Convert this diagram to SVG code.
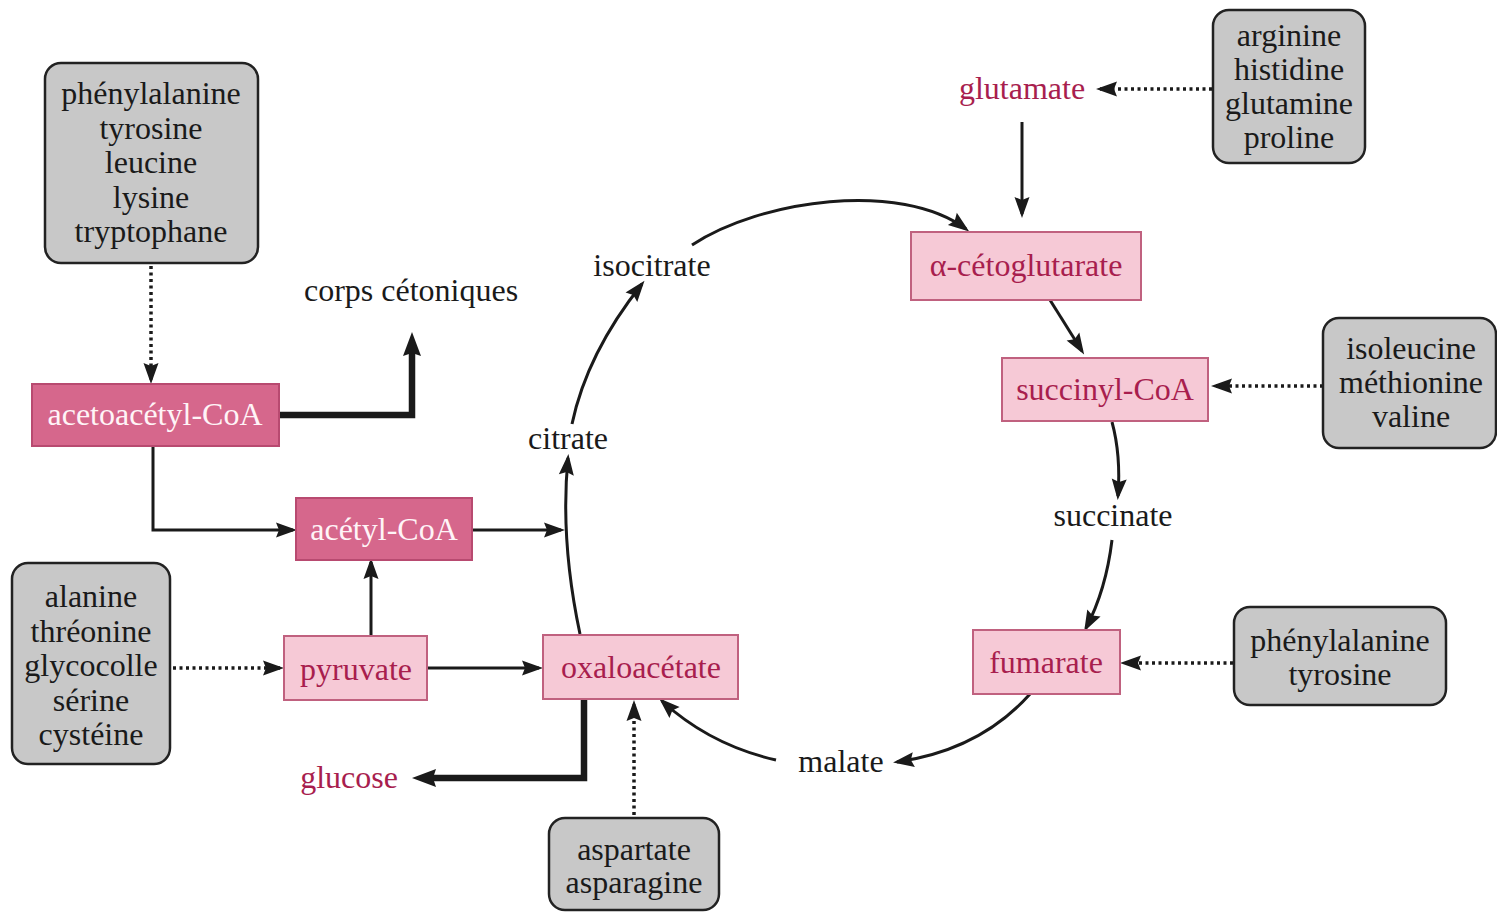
<svg xmlns="http://www.w3.org/2000/svg" width="1497" height="912" viewBox="0 0 1497 912">
  <style>
    text { font-family: "Liberation Serif", "Times New Roman", serif; font-size: 32px; text-anchor: middle; fill: #1a1a1a; }
    .pinktxt { fill: #a81e4e; }
    .whitetxt { fill: #fff4f7; }
    .src { fill: #c8c8c8; stroke: #222; stroke-width: 2.5; }
    .dark { fill: #d6678c; stroke: #b84a70; stroke-width: 2; }
    .light { fill: #f6c9d6; stroke: #c0617f; stroke-width: 2; }
    .line { fill: none; stroke: #1a1a1a; stroke-width: 3; marker-end: url(#arr); }
    .thick { fill: none; stroke: #1a1a1a; stroke-width: 6.5; marker-end: url(#arrThick); }
    .dots { fill: none; stroke: #1a1a1a; stroke-width: 3.5; stroke-dasharray: 3 3.5; marker-end: url(#arr); }
  </style>
  <defs>
    <marker id="arr" markerUnits="userSpaceOnUse" markerWidth="22" markerHeight="16" refX="17" refY="7.5" orient="auto" overflow="visible">
      <path d="M0,0 L21,7.5 L0,15 L3,7.5 z" fill="#1a1a1a"/>
    </marker>
    <marker id="arrThick" markerUnits="userSpaceOnUse" markerWidth="26" markerHeight="20" refX="8" refY="9" orient="auto" overflow="visible">
      <path d="M0,0 L24,9 L0,18 L3,9 z" fill="#1a1a1a"/>
    </marker>
  </defs>

  <!-- connectors -->
  <g id="connectors">
    <!-- amino acid inputs (dotted) -->
    <path class="dots" d="M151 266 V380"/>
    <path class="dots" d="M173 668 H280"/>
    <path class="dots" d="M634 815 V704"/>
    <path class="dots" d="M1212 89 H1100"/>
    <path class="dots" d="M1323 386 H1215"/>
    <path class="dots" d="M1233 663 H1124"/>

    <!-- thick outputs -->
    <path class="thick" d="M279 415 H412 V348"/>
    <path class="thick" d="M584 699 V778 H428"/>

    <!-- straight links -->
    <path class="line" d="M153 446 V530 H293"/>
    <path class="line" d="M472 530 H561"/>
    <path class="line" d="M371 636 V562"/>
    <path class="line" d="M427 668 H539"/>
    <path class="line" d="M1022 122 V214"/>
    <path class="line" d="M1050 300 L1082 351"/>

    <!-- citric acid cycle arcs -->
    <path class="line" d="M580 634 Q 560 540 568 458"/>
    <path class="line" d="M572 424 Q 587 353 642 284"/>
    <path class="line" d="M692 245 C 760 200, 900 180, 966 229"/>
    <path class="line" d="M1112 422 Q 1121 455 1118 496"/>
    <path class="line" d="M1112 540 Q 1106 590 1086 628"/>
    <path class="line" d="M1030 694 Q 980 750 897 762"/>
    <path class="line" d="M776 760 Q 710 745 662 701"/>
  </g>

  <!-- source amino acid groups -->
  <g id="src-ketogenic">
    <rect class="src" x="45" y="63" width="213" height="200" rx="16"/>
    <text x="151" y="104">phénylalanine</text>
    <text x="151" y="138.5">tyrosine</text>
    <text x="151" y="173">leucine</text>
    <text x="151" y="207.5">lysine</text>
    <text x="151" y="242">tryptophane</text>
  </g>
  <g id="src-pyruvate">
    <rect class="src" x="12" y="563" width="158" height="201" rx="16"/>
    <text x="91" y="607">alanine</text>
    <text x="91" y="641.5">thréonine</text>
    <text x="91" y="676">glycocolle</text>
    <text x="91" y="710.5">sérine</text>
    <text x="91" y="745">cystéine</text>
  </g>
  <g id="src-oxaloacetate">
    <rect class="src" x="549" y="818" width="170" height="92" rx="16"/>
    <text x="634" y="860">aspartate</text>
    <text x="634" y="893">asparagine</text>
  </g>
  <g id="src-glutamate">
    <rect class="src" x="1213" y="10" width="152" height="153" rx="16"/>
    <text x="1289" y="46">arginine</text>
    <text x="1289" y="80">histidine</text>
    <text x="1289" y="114">glutamine</text>
    <text x="1289" y="148">proline</text>
  </g>
  <g id="src-succinyl">
    <rect class="src" x="1323" y="318" width="173" height="130" rx="16"/>
    <text x="1411" y="359">isoleucine</text>
    <text x="1411" y="393">méthionine</text>
    <text x="1411" y="427">valine</text>
  </g>
  <g id="src-fumarate">
    <rect class="src" x="1234" y="607" width="212" height="98" rx="16"/>
    <text x="1340" y="651">phénylalanine</text>
    <text x="1340" y="685">tyrosine</text>
  </g>

  <!-- intermediates -->
  <g id="acetoacetyl-coa">
    <rect class="dark" x="32" y="384" width="247" height="62"/>
    <text class="whitetxt" x="155" y="425">acetoacétyl-CoA</text>
  </g>
  <g id="acetyl-coa">
    <rect class="dark" x="296" y="498" width="176" height="62"/>
    <text class="whitetxt" x="384" y="540">acétyl-CoA</text>
  </g>
  <g id="pyruvate">
    <rect class="light" x="284" y="636" width="143" height="64"/>
    <text class="pinktxt" x="356" y="680">pyruvate</text>
  </g>
  <g id="oxaloacetate">
    <rect class="light" x="543" y="635" width="195" height="64"/>
    <text class="pinktxt" x="641" y="678">oxaloacétate</text>
  </g>
  <g id="alpha-cetoglutarate">
    <rect class="light" x="911" y="232" width="230" height="68"/>
    <text class="pinktxt" x="1026" y="276">α-cétoglutarate</text>
  </g>
  <g id="succinyl-coa">
    <rect class="light" x="1002" y="358" width="206" height="63"/>
    <text class="pinktxt" x="1105" y="400">succinyl-CoA</text>
  </g>
  <g id="fumarate">
    <rect class="light" x="973" y="630" width="147" height="64"/>
    <text class="pinktxt" x="1046" y="673">fumarate</text>
  </g>

  <!-- plain labels -->
  <g id="corps-cetoniques"><text x="411" y="301">corps cétoniques</text></g>
  <g id="glucose"><text class="pinktxt" x="349" y="788">glucose</text></g>
  <g id="glutamate"><text class="pinktxt" x="1022" y="99">glutamate</text></g>
  <g id="citrate"><text x="568" y="449">citrate</text></g>
  <g id="isocitrate"><text x="652" y="276">isocitrate</text></g>
  <g id="succinate"><text x="1113" y="526">succinate</text></g>
  <g id="malate"><text x="841" y="772">malate</text></g>
</svg>
